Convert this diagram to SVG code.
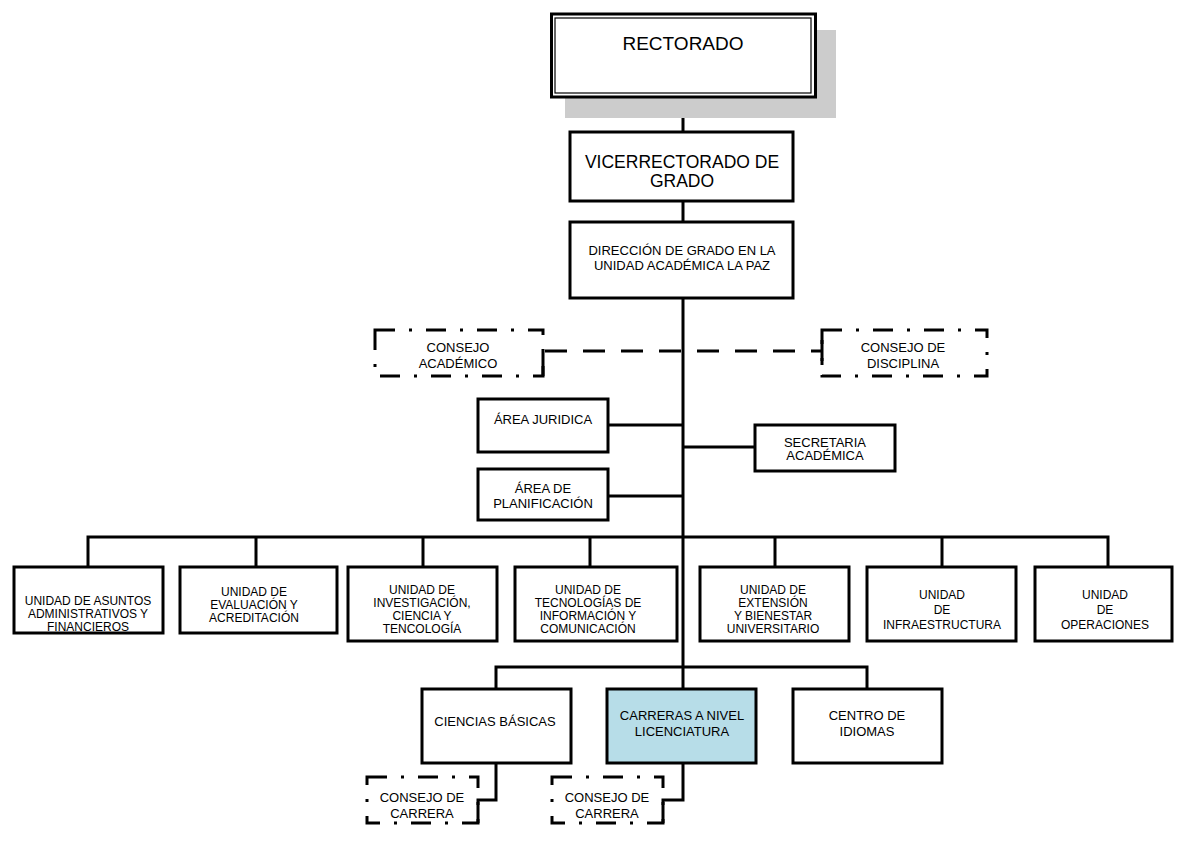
<svg xmlns="http://www.w3.org/2000/svg" width="1182" height="844" viewBox="0 0 1182 844">
<style>
.box{fill:#fff;stroke:#000;stroke-width:3}
.blue{fill:#b7dde8;stroke:#000;stroke-width:3}
.dd{fill:none;stroke:#000;stroke-width:3;stroke-dasharray:20 14 3 14}
.ln{fill:none;stroke:#000;stroke-width:3}
.dash{fill:none;stroke:#000;stroke-width:3;stroke-dasharray:22 16}
text{font-family:"Liberation Sans",Arial,sans-serif;fill:#000;text-anchor:middle}
.t12{font-size:12px}
.t13{font-size:13px}
.t18{font-size:17.5px}
.t19{font-size:19px}
</style>
<rect width="1182" height="844" fill="#fff"/>
<g id="connectors">
<path class="ln" d="M683 98V132M683 201V222M683 298V689"/>
<path class="ln" d="M608 425H683M608 496H683M683 447H755"/>
<path class="dash" d="M545 351H822"/>
<path class="ln" d="M543 352V376M822 340V365"/>
<path class="ln" d="M88 567V537H1108V567M256 537V567M423 537V567M590 537V567M775 537V567M942 537V567"/>
<path class="ln" d="M496 689V667H867V689"/>
<path class="ln" d="M496 763V800H478V823M683 763V800H663V823"/>
</g>
<g id="rectorado">
<rect x="565" y="30" width="271" height="88" fill="#cccccc"/>
<rect x="551.5" y="14" width="264" height="83" fill="#fff" stroke="#000" stroke-width="3"/>
<rect x="555" y="18" width="256" height="75" fill="none" stroke="#000" stroke-width="1.2"/>
<text class="t19" x="683" y="50">RECTORADO</text>
</g>
<g id="vicerrectorado">
<rect class="box" x="570" y="132" width="223" height="69"/>
<text class="t18" x="682" y="168">VICERRECTORADO DE</text>
<text class="t18" x="682" y="187">GRADO</text>
</g>
<g id="direccion">
<rect class="box" x="570" y="222" width="223" height="76"/>
<text class="t13" x="682" y="255">DIRECCIÓN DE GRADO EN LA</text>
<text class="t13" x="682" y="270">UNIDAD ACADÉMICA LA PAZ</text>
</g>
<g id="consejo-academico">
<rect class="dd" x="375" y="330" width="168" height="46"/>
<text class="t13" x="458" y="352">CONSEJO</text>
<text class="t13" x="458" y="368">ACADÉMICO</text>
</g>
<g id="consejo-disciplina">
<rect class="dd" x="822" y="330" width="165" height="46"/>
<text class="t13" x="903" y="352">CONSEJO DE</text>
<text class="t13" x="903" y="368">DISCIPLINA</text>
</g>
<g id="area-juridica">
<rect class="box" x="478" y="399" width="130" height="53"/>
<text class="t13" x="543" y="424">ÁREA JURIDICA</text>
</g>
<g id="secretaria">
<rect class="box" x="755" y="425" width="140" height="46"/>
<text class="t13" x="825" y="447">SECRETARIA</text>
<text class="t13" x="825" y="460">ACADÉMICA</text>
</g>
<g id="area-planificacion">
<rect class="box" x="478" y="469" width="130" height="51"/>
<text class="t13" x="543" y="493">ÁREA DE</text>
<text class="t13" x="543" y="508">PLANIFICACIÓN</text>
</g>
<g id="unidad-asuntos">
<rect class="box" x="14" y="567" width="149" height="66"/>
<text class="t12" x="88" y="605">UNIDAD DE ASUNTOS</text>
<text class="t12" x="88" y="618">ADMINISTRATIVOS Y</text>
<text class="t12" x="88" y="631">FINANCIEROS</text>
</g>
<g id="unidad-evaluacion">
<rect class="box" x="180" y="567" width="157" height="66"/>
<text class="t12" x="254" y="596">UNIDAD DE</text>
<text class="t12" x="254" y="609">EVALUACIÓN Y</text>
<text class="t12" x="254" y="622">ACREDITACIÓN</text>
</g>
<g id="unidad-investigacion">
<rect class="box" x="348" y="567" width="149" height="74"/>
<text class="t12" x="422" y="594">UNIDAD DE</text>
<text class="t12" x="422" y="607">INVESTIGACIÓN,</text>
<text class="t12" x="422" y="620">CIENCIA Y</text>
<text class="t12" x="422" y="633">TENCOLOGÍA</text>
</g>
<g id="unidad-tecnologias">
<rect class="box" x="515" y="567" width="162" height="74"/>
<text class="t12" x="588" y="594">UNIDAD DE</text>
<text class="t12" x="588" y="607">TECNOLOGÍAS DE</text>
<text class="t12" x="588" y="620">INFORMACIÓN Y</text>
<text class="t12" x="588" y="633">COMUNICACIÓN</text>
</g>
<g id="unidad-extension">
<rect class="box" x="700" y="567" width="149" height="74"/>
<text class="t12" x="773" y="594">UNIDAD DE</text>
<text class="t12" x="773" y="607">EXTENSIÓN</text>
<text class="t12" x="773" y="620">Y BIENESTAR</text>
<text class="t12" x="773" y="633">UNIVERSITARIO</text>
</g>
<g id="unidad-infraestructura">
<rect class="box" x="867" y="567" width="149" height="74"/>
<text class="t12" x="942" y="599">UNIDAD</text>
<text class="t12" x="942" y="614">DE</text>
<text class="t12" x="942" y="629">INFRAESTRUCTURA</text>
</g>
<g id="unidad-operaciones">
<rect class="box" x="1035" y="567" width="137" height="74"/>
<text class="t12" x="1105" y="599">UNIDAD</text>
<text class="t12" x="1105" y="614">DE</text>
<text class="t12" x="1105" y="629">OPERACIONES</text>
</g>
<g id="ciencias-basicas">
<rect class="box" x="422" y="689" width="149" height="74"/>
<text class="t13" x="495" y="726">CIENCIAS BÁSICAS</text>
</g>
<g id="carreras-licenciatura">
<rect class="blue" x="607" y="689" width="149" height="74"/>
<text class="t13" x="682" y="720">CARRERAS A NIVEL</text>
<text class="t13" x="682" y="736">LICENCIATURA</text>
</g>
<g id="centro-idiomas">
<rect class="box" x="793" y="689" width="149" height="74"/>
<text class="t13" x="867" y="720">CENTRO DE</text>
<text class="t13" x="867" y="736">IDIOMAS</text>
</g>
<g id="consejo-carrera-1">
<rect class="dd" x="367" y="777" width="111" height="46"/>
<text class="t13" x="422" y="802">CONSEJO DE</text>
<text class="t13" x="422" y="818">CARRERA</text>
</g>
<g id="consejo-carrera-2">
<rect class="dd" x="552" y="777" width="111" height="46"/>
<text class="t13" x="607" y="802">CONSEJO DE</text>
<text class="t13" x="607" y="818">CARRERA</text>
</g>
</svg>
